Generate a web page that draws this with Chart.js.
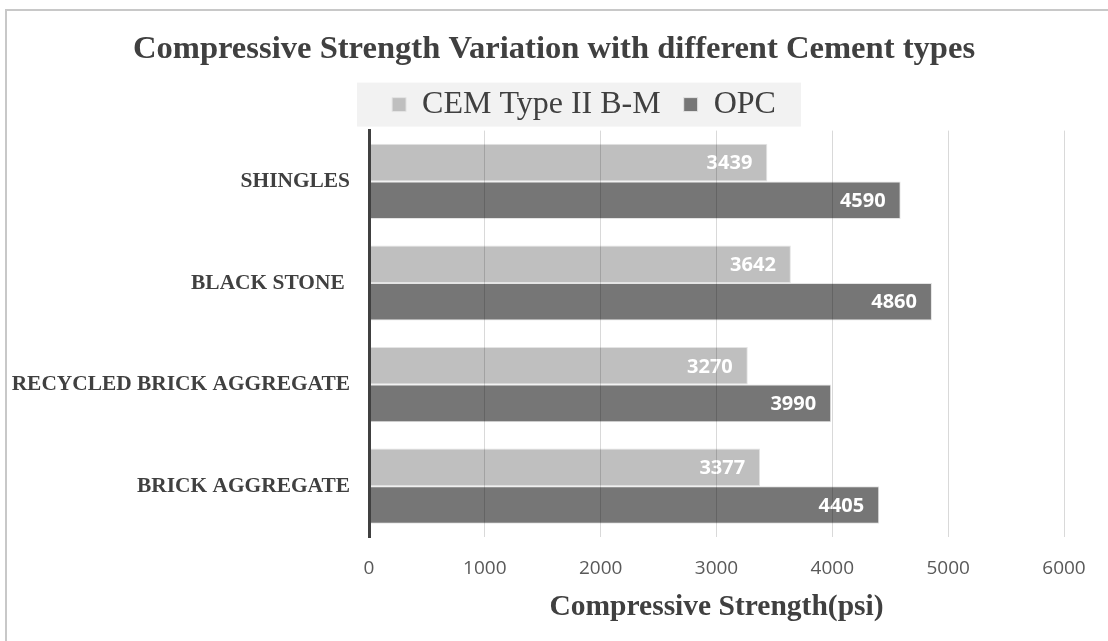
<!DOCTYPE html>
<html>
<head>
<meta charset="utf-8">
<script src="https://cdn.jsdelivr.net/npm/chart.js@4.4.1/dist/chart.umd.min.js"></script>
<style>
    html, body { margin: 0; padding: 0; background: #ffffff; }
    #wrap { width: 1108px; height: 641px; }
</style>
</head>
<body>
<div id="wrap"><canvas id="strengthChart"></canvas></div>
<script>
// Data
const categories = ['SHINGLES', 'BLACK STONE ', 'RECYCLED BRICK AGGREGATE', 'BRICK AGGREGATE'];
const seriesNames = ['CEM Type II B-M', 'OPC'];
const cemTypeII = [3439, 3642, 3270, 3377];
const opc = [4590, 4860, 3990, 4405];
const xMin = 0;
const xMax = 6000;
const xStep = 1000;

const serif = '"Liberation Serif", "Times New Roman", serif';
const sans = '"Open Sans", "Noto Sans", sans-serif';

// Frame around the whole chart
const framePlugin = {
    id: 'frame',
    beforeDraw(chart) {
        const ctx = chart.ctx;
        ctx.save();
        ctx.strokeStyle = '#c8c8c8';
        ctx.lineWidth = 2;
        ctx.strokeRect(6, 10, chart.width + 10, chart.height + 10);
        ctx.restore();
    }
};

// Nudge the legend a bit right of centre, like the original
// (hit boxes get rebuilt by the legend plugin in afterUpdate)
const legendShift = {
    id: 'legendShift',
    afterLayout(chart) {
        const lg = chart.legend;
        if (!lg) return;
        lg.left += 30;
        lg.right += 30;
    }
};

// Light grey panel behind the legend
const legendPanel = {
    id: 'legendPanel',
    beforeDraw(chart) {
        const boxes = chart.legend && chart.legend.legendHitBoxes;
        if (!boxes || !boxes.length) return;
        const first = boxes[0];
        const last = boxes[boxes.length - 1];
        const ctx = chart.ctx;
        ctx.save();
        ctx.fillStyle = '#f2f2f2';
        ctx.fillRect(first.left - 35, first.top - 6, last.left + last.width - first.left + 60, 44);
        ctx.restore();
    }
};

// White value labels at the inner end of each bar
const valueLabels = {
    id: 'valueLabels',
    afterDatasetsDraw(chart) {
        const ctx = chart.ctx;
        ctx.save();
        ctx.fillStyle = '#ffffff';
        ctx.font = 'bold 20px ' + sans;
        ctx.textAlign = 'right';
        ctx.textBaseline = 'middle';
        chart.data.datasets.forEach((ds, i) => {
            chart.getDatasetMeta(i).data.forEach((bar, j) => {
                ctx.fillText(String(ds.data[j]), bar.x - 15, bar.y + 1);
            });
        });
        ctx.restore();
    }
};

new Chart(document.getElementById('strengthChart'), {
    type: 'bar',
    data: {
        labels: categories,
        datasets: [
            {
                label: seriesNames[0],
                data: cemTypeII,
                backgroundColor: '#bfbfbf',
                borderColor: '#e4e4e4',
                borderWidth: 1,
                borderSkipped: 'start',
                categoryPercentage: 0.74,
                barPercentage: 1
            },
            {
                label: seriesNames[1],
                data: opc,
                backgroundColor: '#767676',
                borderColor: '#e4e4e4',
                borderWidth: 1,
                borderSkipped: 'start',
                categoryPercentage: 0.74,
                barPercentage: 1
            }
        ]
    },
    options: {
        indexAxis: 'y',
        responsive: true,
        maintainAspectRatio: false,
        animation: false,
        layout: { padding: 0 },
        plugins: {
            title: {
                display: true,
                text: 'Compressive Strength Variation with different Cement types',
                color: '#404040',
                font: { family: serif, size: 32.6, weight: 'bold', lineHeight: 1 },
                padding: { top: 33, bottom: 0 }
            },
            legend: {
                display: true,
                position: 'top',
                labels: {
                    color: '#404040',
                    font: { family: serif, size: 32 },
                    boxWidth: 14,
                    boxHeight: 14,
                    padding: 23
                }
            },
            tooltip: { enabled: false }
        },
        scales: {
            x: {
                min: xMin,
                max: xMax,
                ticks: {
                    stepSize: xStep,
                    color: '#595959',
                    font: { family: sans, size: 19 },
                    padding: 20,
                    callback: (v) => String(v)
                },
                grid: { color: 'rgba(0, 0, 0, 0.15)', drawTicks: false, z: 1 },
                border: { display: false },
                title: {
                    display: true,
                    text: 'Compressive Strength(psi)',
                    color: '#404040',
                    font: { family: serif, size: 29.5, weight: 'bold', lineHeight: 1 },
                    padding: { top: 0, bottom: 19 }
                },
                afterFit(scale) { scale.height = 104; }
            },
            y: {
                ticks: {
                    color: '#404040',
                    font: { family: serif, size: 21.4, weight: 'bold' },
                    padding: 19
                },
                grid: { display: false, drawTicks: false },
                border: { display: true, color: '#404040', width: 3, z: 1 },
                afterFit(scale) { scale.width = 369; }
            },
            // empty strip on the right so the titles centre on the full width
            yRight: {
                axis: 'y',
                position: 'right',
                ticks: { display: false },
                grid: { display: false, drawTicks: false },
                border: { display: false },
                afterFit(scale) { scale.width = 44; }
            }
        }
    },
    plugins: [framePlugin, legendShift, legendPanel, valueLabels]
});
</script>
</body>
</html>
